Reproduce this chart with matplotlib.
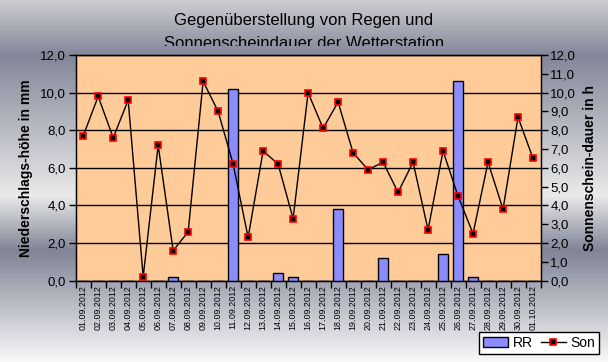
import numpy as np
import matplotlib
matplotlib.use('agg')
import matplotlib.pyplot as plt
from matplotlib.ticker import FuncFormatter, MultipleLocator
from matplotlib.transforms import Bbox, TransformedBbox
from matplotlib.lines import Line2D
from matplotlib.patches import Patch

## data
days = ['01.09.2012', '02.09.2012', '03.09.2012', '04.09.2012', '05.09.2012',
        '06.09.2012', '07.09.2012', '08.09.2012', '09.09.2012', '10.09.2012',
        '11.09.2012', '12.09.2012', '13.09.2012', '14.09.2012', '15.09.2012',
        '16.09.2012', '17.09.2012', '18.09.2012', '19.09.2012', '20.09.2012',
        '21.09.2012', '22.09.2012', '23.09.2012', '24.09.2012', '25.09.2012',
        '26.09.2012', '27.09.2012', '28.09.2012', '29.09.2012', '30.09.2012',
        '01.10.2012']
rr = [0, 0, 0, 0, 0, 0, 0.2, 0, 0, 0,
      10.2, 0, 0, 0.4, 0.2, 0, 0, 3.8, 0, 0,
      1.2, 0, 0, 0, 1.4, 10.6, 0.2, 0, 0, 0,
      0]
son = [7.7, 9.8, 7.6, 9.6, 0.2, 7.2, 1.6, 2.6, 10.6, 9.0,
       6.2, 2.3, 6.9, 6.2, 3.3, 10.0, 8.1, 9.5, 6.8, 5.9,
       6.3, 4.7, 6.3, 2.7, 6.9, 4.5, 2.5, 6.3, 3.8, 8.7,
       6.5]

plt.rcParams['font.family'] = ['Liberation Sans', 'DejaVu Sans']

fig = plt.figure(figsize=(6.08, 3.62), dpi=100)

# gradient background
bg = fig.add_axes([0, 0, 1, 1], zorder=-10)
stops_y = [0, 55, 195, 250, 362]
stops_c = [(205, 205, 210), (130, 134, 152), (234, 234, 234), (128, 132, 150), (250, 250, 250)]
yy = np.arange(362)
grad = np.zeros((362, 1, 3))
for k in range(3):
    grad[:, 0, k] = np.interp(yy, stops_y, [c[k] for c in stops_c]) / 255.0
bg.imshow(grad, aspect='auto', extent=[0, 1, 0, 1], origin='upper')
bg.set_axis_off()

x = np.arange(len(days))
comma = FuncFormatter(lambda v, p: ('%.1f' % v).replace('.', ','))

ax = fig.add_axes([0.1245, 0.2246, 0.7645, 0.6234])
ax.set_facecolor('#ffcc99')
ax.bar(x, rr, width=0.7, color='#8c8cff', edgecolor='black', linewidth=1, zorder=3, label='RR')
ax.set_xlim(-0.5, len(days) - 0.5)
ax.set_ylim(0, 12)
ax.yaxis.set_major_locator(MultipleLocator(2))
ax.yaxis.set_major_formatter(comma)
ax.grid(axis='y', color='black', linewidth=1, zorder=1)
ax.set_axisbelow(True)
ax.set_xticks(x)
ax.set_xticklabels(days, rotation=90, fontsize=6.4)
ax.tick_params(axis='x', which='major', length=0, pad=3)
ax.set_xticks(np.arange(-0.5, len(days), 1), minor=True)
ax.tick_params(axis='x', which='minor', length=5, width=1, direction='out')
ax.tick_params(axis='y', length=5, width=1, labelsize=9.5, pad=2)
for s in ax.spines.values():
    s.set_linewidth(1)
ax.set_ylabel('Niederschlags-höhe in mm', fontsize=10, fontweight='bold', labelpad=5)

ax2 = ax.twinx()
ax2.plot(x, son, color='black', linewidth=1, marker='s', markersize=5,
         markerfacecolor='black', markeredgecolor='red', markeredgewidth=1.2, label='Son', zorder=4)
ax2.set_ylim(0, 12)
ax2.yaxis.set_major_locator(MultipleLocator(1))
ax2.yaxis.set_major_formatter(comma)
ax2.tick_params(axis='y', length=5, width=1, labelsize=9.5, pad=2)
ax2.set_ylabel('Sonnenschein-dauer in h', fontsize=10, fontweight='bold', labelpad=5)

# title, second line cut off like the original
fig.text(0.5, 1 - 21 / 362., 'Gegenüberstellung von Regen und', ha='center', va='center', fontsize=12)
t2 = fig.text(0.5, 1 - 44 / 362., 'Sonnenscheindauer der Wetterstation', ha='center', va='center', fontsize=12)
t2.set_clip_on(True)
t2.set_clip_box(TransformedBbox(Bbox([[0, 1 - 46 / 362.], [1, 1]]), fig.transFigure))

handles = [Patch(facecolor='#8c8cff', edgecolor='black', linewidth=1),
           Line2D([0], [0], color='black', linewidth=1, marker='s', markersize=5,
                  markerfacecolor='black', markeredgecolor='red', markeredgewidth=1.2)]
leg = fig.legend(handles, ['RR', 'Son'], loc='lower right', bbox_to_anchor=(599 / 608., 1 - 354 / 362.),
                 ncol=2, fontsize=10, frameon=True, fancybox=False, edgecolor='black',
                 framealpha=1, borderpad=0.3, handlelength=1.8, handletextpad=0.3,
                 columnspacing=0.6, borderaxespad=0)
leg.get_frame().set_linewidth(1)

plt.savefig('out.png', dpi=100)
